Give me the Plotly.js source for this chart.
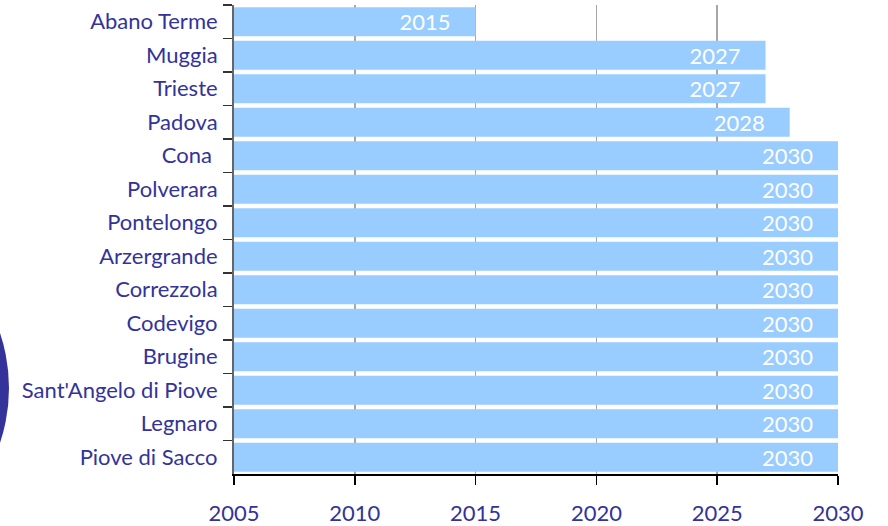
<!DOCTYPE html>
<html>
<head>
<meta charset="utf-8">
<script src="https://cdn.plot.ly/plotly-3.0.1.min.js"></script>
<style>html,body{margin:0;padding:0;background:#fff;}#chart{width:888px;height:526px;}</style>
</head>
<body>
<div id="chart"></div>
<script>
const comuni = ["Abano Terme","Muggia","Trieste","Padova","Cona ","Polverara","Pontelongo","Arzergrande","Correzzola","Codevigo","Brugine","Sant'Angelo di Piove","Legnaro","Piove di Sacco"];
const anni = [2015,2027,2027,2028,2030,2030,2030,2030,2030,2030,2030,2030,2030,2030];
const xTicks = [2005,2010,2015,2020,2025,2030];

const navy = "#333399";
const trace = {
  type: "bar",
  orientation: "h",
  y: comuni,
  x: anni,
  texttemplate: "%{x}\u2002\u2002",
  textposition: "inside",
  insidetextanchor: "end",
  constraintext: "none",
  textfont: {family: "Lato, sans-serif", size: 22, color: "#ffffff"},
  marker: {color: "#99ccff", line: {width: 0}},
  hoverinfo: "none"
};
const layout = {
  width: 888, height: 526,
  margin: {l: 234, r: 50, t: 5, b: 52},
  paper_bgcolor: "#ffffff", plot_bgcolor: "#ffffff",
  showlegend: false,
  bargap: 0.13,
  font: {family: "Lato, sans-serif", color: navy},
  xaxis: {
    range: [2005, 2030],
    tickvals: xTicks, ticktext: xTicks.map(String),
    showgrid: true, gridcolor: "#a6a6a6", gridwidth: 1.5,
    showline: true, linecolor: "#000000", linewidth: 1.5,
    ticks: "outside", ticklen: 9, tickcolor: "#000000", tickwidth: 1.5,
    tickfont: {size: 22, color: navy},
    ticklabelstandoff: 10,
    zeroline: false
  },
  yaxis: {
    autorange: "reversed",
    type: "category",
    showgrid: false,
    showline: true, linecolor: "#666666", linewidth: 2,
    ticks: "outside", tickson: "boundaries", ticklen: 9, tickcolor: "#333333", tickwidth: 1.5,
    tickfont: {size: 22, color: navy},
    ticklabelstandoff: 10
  },
  shapes: [{
    type: "circle", xref: "paper", yref: "paper", layer: "below",
    x0: (-335 - 234) / 604, x1: (9 - 234) / 604,
    y0: (474 - 560) / 469, y1: (474 - 216) / 469,
    fillcolor: "#333399", line: {width: 0}
  }]
};
Plotly.newPlot("chart", [trace], layout, {staticPlot: true, displayModeBar: false});
</script>
</body>
</html>
